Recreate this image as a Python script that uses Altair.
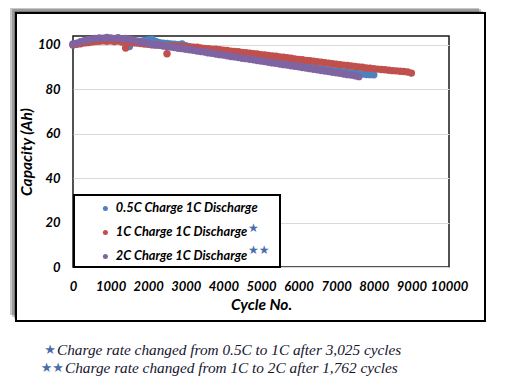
import altair as alt
import pandas as pd

series_names = ["0.5C Charge 1C Discharge", "1C Charge 1C Discharge", "2C Charge 1C Discharge"]
series_colors = ["#4F81BD", "#C0504D", "#8064A2"]

blue_cycles = list(range(0, 8001, 100))
blue_cap = [
    100.1, 100.5, 100.9, 101.3, 101.7, 102.0, 102.3, 102.4, 102.6, 102.5,
    102.6, 102.3, 102.4, 101.9, 101.5, 99.3, 101.4, 101.3, 101.6, 102.0,
    102.3, 102.6, 101.5, 101.0, 100.8, 100.6, 100.4, 100.3, 100.1, 100.4,
    99.6, 99.2, 98.8, 98.5, 98.1, 97.8, 97.5, 97.2, 96.9, 96.6,
    96.3, 96.0, 95.7, 95.4, 95.1, 94.8, 94.6, 94.3, 94.0, 93.7,
    93.4, 93.1, 92.9, 92.6, 92.3, 92.0, 91.8, 91.5, 91.2, 90.9,
    90.7, 90.4, 90.1, 89.9, 89.6, 89.4, 89.1, 88.9, 88.7, 88.4,
    88.2, 88.0, 87.8, 87.6, 87.4, 87.2, 87.0, 86.9, 86.7, 86.6,
    86.5,
]

red_cycles = list(range(0, 9001, 100))
red_cap = [
    100.0, 100.3, 100.5, 100.9, 101.0, 101.3, 101.5, 101.6, 101.8, 101.6,
    101.8, 101.5, 101.7, 101.3, 98.6, 101.2, 100.9, 100.8, 100.6, 100.4,
    100.3, 100.0, 99.9, 100.0, 99.7, 96.0, 99.6, 99.5, 99.3, 99.4,
    99.2, 99.0, 98.9, 99.0, 98.6, 98.4, 98.3, 98.0, 98.1, 97.8,
    97.6, 97.5, 97.2, 97.0, 96.9, 96.6, 96.5, 96.2, 96.0, 95.9,
    95.6, 95.5, 95.2, 95.0, 94.9, 94.6, 94.5, 94.2, 94.0, 93.7,
    93.4, 93.3, 93.0, 92.9, 92.6, 92.4, 92.2, 92.0, 91.8, 91.5,
    91.3, 91.1, 90.9, 90.7, 90.5, 90.3, 90.1, 89.9, 89.6, 89.5,
    89.3, 89.1, 88.9, 88.8, 88.6, 88.4, 88.3, 88.1, 88.0, 87.8,
    87.3,
]

purple_cycles = list(range(0, 7601, 100))
purple_cap = [
    100.4, 100.8, 101.4, 101.9, 102.3, 102.6, 102.9, 103.1, 103.0, 103.3,
    103.1, 102.9, 103.2, 102.8, 102.9, 102.6, 102.2, 101.8, 101.3, 100.9,
    100.6, 100.3, 100.0, 99.8, 99.5, 99.3, 99.0, 98.8, 98.5, 98.3,
    98.0, 97.8, 97.6, 97.2, 97.0, 96.8, 96.4, 96.2, 95.9, 95.6,
    95.4, 95.1, 94.8, 94.6, 94.3, 94.0, 93.8, 93.5, 93.3, 93.0,
    92.7, 92.5, 92.2, 91.9, 91.7, 91.4, 91.1, 90.9, 90.6, 90.4,
    90.1, 89.8, 89.6, 89.3, 89.0, 88.8, 88.5, 88.2, 88.0, 87.7,
    87.4, 87.2, 86.9, 86.6, 86.4, 86.1, 85.7,
]

x_ticks = [0, 1000, 2000, 3000, 4000, 5000, 6000, 7000, 8000, 9000, 10000]
y_ticks = [0, 20, 40, 60, 80, 100]

note1 = "Charge rate changed from 0.5C to 1C after 3,025 cycles"
note2 = "Charge rate changed from 1C to 2C after 1,762 cycles"

rows = []
for name, cyc, cap in zip(series_names,
                          [blue_cycles, red_cycles, purple_cycles],
                          [blue_cap, red_cap, purple_cap]):
    for c, v in zip(cyc, cap):
        rows.append({"cycle": c, "capacity": v, "series": name})
df = pd.DataFrame(rows)

dummy = pd.DataFrame({"d": [0]})
FONT = "Lato"
W, H = 376, 231


def rect(x1, x2, y1, y2, **kw):
    return alt.Chart(dummy).mark_rect(**kw).encode(
        x=alt.value(x1), x2=alt.value(x2), y=alt.value(y1), y2=alt.value(y2))


def text(x, y, s, **kw):
    return alt.Chart(dummy).mark_text(text=s, **kw).encode(
        x=alt.value(x), y=alt.value(y))


layers = []
# shadow of outer frame (left and top)
for k in [2, 4, 6]:
    layers.append(rect(-57 - k, -57, -23 - k, 285 - k, color="#000000", opacity=0.22))
    layers.append(rect(-57, 412 - k, -23 - k, -23, color="#000000", opacity=0.22))
# outer frame
layers.append(rect(-57, 412, -23, 285, fill="#ffffff", fillOpacity=0,
                   stroke="#000000", strokeWidth=2))

points = alt.Chart(df).mark_circle(size=55, opacity=1).encode(
    x=alt.X("cycle:Q",
            scale=alt.Scale(domain=[0, 10000], nice=False),
            axis=alt.Axis(values=x_ticks, format="d", title="Cycle No.", grid=False,
                          ticks=False, tickSize=0, labelPadding=13, titlePadding=4,
                          domain=False, labelFlush=False)),
    y=alt.Y("capacity:Q",
            scale=alt.Scale(domain=[0, 104], nice=False, zero=False),
            axis=alt.Axis(values=y_ticks, title="Capacity (Ah)", grid=True, ticks=False,
                          tickSize=0, labelPadding=13, titlePadding=3,
                          domain=False, gridColor="#D9D9D9", gridWidth=1)),
    color=alt.Color("series:N",
                    scale=alt.Scale(domain=series_names, range=series_colors),
                    legend=alt.Legend(orient="none", legendX=26, legendY=166, title=None,
                                      symbolType="circle", symbolSize=25,
                                      labelFont=FONT, labelFontSize=12.8,
                                      labelFontStyle="italic", labelFontWeight="bold",
                                      labelColor="#000000", rowPadding=10, padding=0,
                                      labelOffset=4, labelLimit=300)),
)

# legend frame (white box)
legend_box = rect(1, 207, 159, 231, fill="#ffffff", stroke="#000000", strokeWidth=2)

layers.append(points)
layers.append(legend_box)

star_color = "#4A6EA8"
layers.append(text(175, 192, "★", font="DejaVu Sans", fontSize=12, color=star_color, align="left"))
layers.append(text(175, 214, "★★", font="DejaVu Sans", fontSize=12, color=star_color, align="left"))

note_color = "#15152E"
layers.append(text(-17, 314, "★", font="DejaVu Sans", fontSize=13, color=star_color, align="right"))
layers.append(text(-16, 314, note1, font="Liberation Serif", fontSize=15.3, fontStyle="italic",
                   color=note_color, align="left"))
layers.append(text(-9, 332, "★★", font="DejaVu Sans", fontSize=13, color=star_color, align="right"))
layers.append(text(-8, 332, note2, font="Liberation Serif", fontSize=15.3, fontStyle="italic",
                   color=note_color, align="left"))

chart = alt.layer(*layers).properties(
    width=W, height=H,
    autosize=alt.AutoSizeParams(type="none"),
    padding={"left": 65, "top": 28, "right": 53, "bottom": 110},
).configure_view(
    stroke="#1A1A1A", strokeWidth=1.5
).configure_axis(
    labelFont=FONT, labelFontSize=13, labelFontStyle="italic", labelFontWeight="bold",
    labelColor="#000000", titleFont=FONT, titleFontSize=15.5, titleFontStyle="italic",
    titleFontWeight="bold", titleColor="#000000"
)

chart.save("out.html", embed_options={"renderer": "svg", "actions": False})
